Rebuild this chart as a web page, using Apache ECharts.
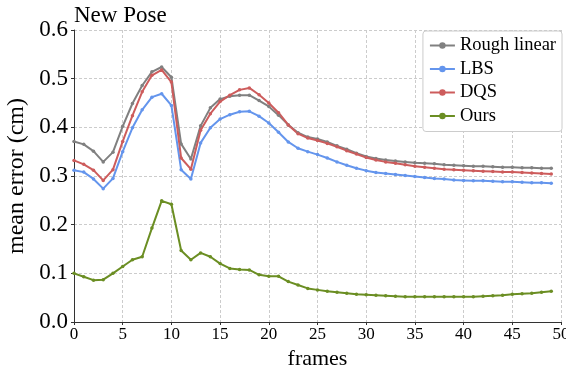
<!DOCTYPE html>
<html>
<head>
<meta charset="utf-8">
<script src="https://cdn.jsdelivr.net/npm/echarts@6/dist/echarts.min.js"></script>
<style>
  html, body { margin: 0; padding: 0; background: #fff; }
  #chart { width: 566px; height: 370px; }
</style>
</head>
<body>
<div id="chart"></div>
<script>
// frame index 0..49
const frames = [0, 1, 2, 3, 4, 5, 6, 7, 8, 9, 10, 11, 12, 13, 14, 15, 16, 17, 18, 19,
  20, 21, 22, 23, 24, 25, 26, 27, 28, 29, 30, 31, 32, 33, 34, 35, 36, 37, 38, 39,
  40, 41, 42, 43, 44, 45, 46, 47, 48, 49]

const roughLinear = [0.371, 0.365, 0.351, 0.329, 0.349, 0.402, 0.449, 0.486, 0.514, 0.524,
  0.503, 0.366, 0.335, 0.403, 0.440, 0.458, 0.464, 0.466, 0.466, 0.455,
  0.443, 0.425, 0.405, 0.389, 0.380, 0.376, 0.370, 0.362, 0.355, 0.347,
  0.340, 0.336, 0.333, 0.331, 0.329, 0.327, 0.326, 0.325, 0.323, 0.322,
  0.321, 0.320, 0.320, 0.319, 0.318, 0.318, 0.317, 0.317, 0.316, 0.316]

const lbs = [0.312, 0.308, 0.294, 0.274, 0.295, 0.350, 0.399, 0.436, 0.462, 0.469,
  0.445, 0.313, 0.294, 0.368, 0.399, 0.417, 0.426, 0.432, 0.433, 0.423,
  0.409, 0.390, 0.370, 0.357, 0.350, 0.344, 0.337, 0.329, 0.322, 0.316,
  0.311, 0.307, 0.305, 0.303, 0.301, 0.299, 0.297, 0.295, 0.294, 0.292,
  0.291, 0.290, 0.290, 0.289, 0.288, 0.288, 0.287, 0.286, 0.286, 0.285]

const dqs = [0.332, 0.324, 0.312, 0.291, 0.313, 0.371, 0.424, 0.473, 0.507, 0.518,
  0.493, 0.337, 0.314, 0.394, 0.428, 0.453, 0.466, 0.477, 0.481, 0.467,
  0.450, 0.430, 0.405, 0.387, 0.378, 0.373, 0.367, 0.360, 0.352, 0.345,
  0.338, 0.333, 0.329, 0.326, 0.323, 0.320, 0.318, 0.316, 0.314, 0.313,
  0.312, 0.311, 0.310, 0.309, 0.308, 0.308, 0.307, 0.306, 0.305, 0.304]

const ours = [0.100, 0.093, 0.086, 0.087, 0.100, 0.114, 0.128, 0.134, 0.193, 0.249,
  0.242, 0.147, 0.128, 0.142, 0.134, 0.120, 0.110, 0.108, 0.107, 0.097,
  0.094, 0.094, 0.083, 0.076, 0.069, 0.066, 0.063, 0.061, 0.059, 0.057,
  0.056, 0.055, 0.054, 0.053, 0.052, 0.052, 0.052, 0.052, 0.052, 0.052,
  0.052, 0.052, 0.053, 0.054, 0.055, 0.057, 0.058, 0.059, 0.061, 0.063]

const seriesNames = ['Rough linear', 'LBS', 'DQS', 'Ours']
const seriesValues = [roughLinear, lbs, dqs, ours]
const colors = ['#808080', '#6495ED', '#CD5C5C', '#6B8E23']

const font = 'Liberation Serif, Times New Roman, serif'

let myChart = echarts.init(document.getElementById('chart'))

const option = {
  animation: false,
  color: colors,
  textStyle: { fontFamily: font },
  title: {
    text: 'New Pose',
    left: 69,
    top: -1,
    textStyle: { fontFamily: font, fontSize: 23, fontWeight: 'normal', color: '#000' }
  },
  grid: {
    left: 74,
    right: 5,
    top: 30,
    bottom: 48,
    outerBoundsMode: 'none'
  },
  legend: {
    orient: 'vertical',
    right: 4,
    top: 31,
    padding: [5, 6, 6, 6],
    itemWidth: 25,
    itemHeight: 8,
    itemGap: 4.5,
    backgroundColor: '#fff',
    borderColor: '#ccc',
    borderWidth: 1,
    borderRadius: 3,
    textStyle: { fontFamily: font, fontSize: 18.5, color: '#000' },
    data: seriesNames
  },
  xAxis: {
    type: 'value',
    min: 0,
    max: 50,
    interval: 5,
    name: 'frames',
    nameLocation: 'middle',
    nameGap: 20,
    nameTextStyle: { fontFamily: font, fontSize: 22, color: '#000' },
    axisLine: { lineStyle: { color: '#333', width: 1 } },
    axisTick: { show: true, length: 3, lineStyle: { color: '#333' } },
    axisLabel: { fontFamily: font, fontSize: 17, color: '#000', margin: 4 },
    splitLine: { show: true, lineStyle: { color: '#ccc', type: [3, 2], width: 1 } }
  },
  yAxis: {
    type: 'value',
    min: 0,
    max: 0.6,
    interval: 0.1,
    name: 'mean error (cm)',
    nameLocation: 'middle',
    nameGap: 36,
    nameTextStyle: { fontFamily: font, fontSize: 24, color: '#000' },
    axisLine: { show: true, lineStyle: { color: '#333', width: 1 } },
    axisTick: { show: true, length: 3, lineStyle: { color: '#333' } },
    axisLabel: {
      fontFamily: font, fontSize: 23, color: '#000', margin: 6,
      formatter: function (v) { return v.toFixed(1) }
    },
    splitLine: { show: true, lineStyle: { color: '#ccc', type: [3, 2], width: 1 } }
  },
  series: seriesNames.map(function (name, k) {
    return {
      name: name,
      type: 'line',
      data: frames.map(function (f, i) { return [f, seriesValues[k][i]] }),
      symbol: 'circle',
      symbolSize: 3.5,
      showSymbol: true,
      lineStyle: { color: colors[k], width: 2 },
      itemStyle: { color: colors[k] }
    }
  })
}

myChart.setOption(option)
</script>
</body>
</html>
